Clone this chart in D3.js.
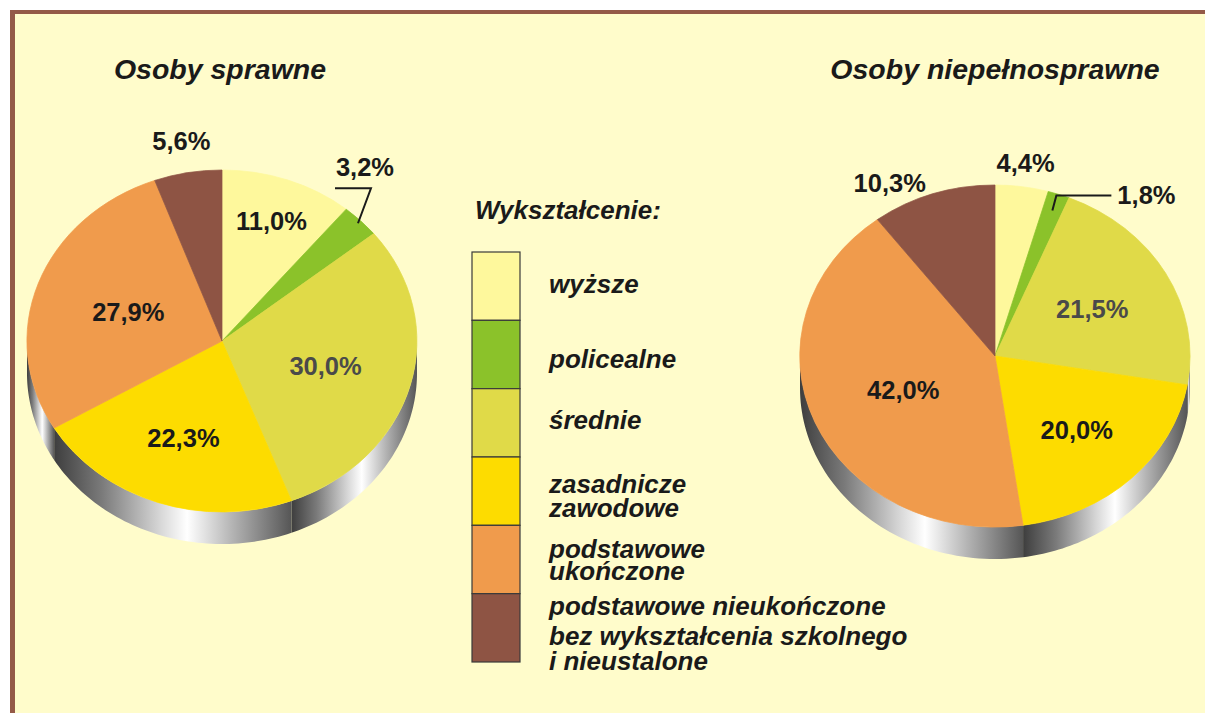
<!DOCTYPE html>
<html>
<head>
<meta charset="utf-8">
<script src="https://cdn.jsdelivr.net/npm/d3@7"></script>
<style>
  html, body { margin: 0; padding: 0; background: #ffffff; }
  text { font-family: "Liberation Sans", Arial, sans-serif; fill: #1a1a1a; }
</style>
</head>
<body>
<div id="chart"></div>
<script>
////////////////////////////////////////////////////////////////////////
// Data

// education levels (legend order = slice order, clockwise from 12 o'clock)
const categories = [
    "wyższe",
    "policealne",
    "średnie",
    "zasadnicze\nzawodowe",
    "podstawowe\nukończone",
    "podstawowe nieukończone\nbez wykształcenia szkolnego\ni nieustalone"
];

// percentages
const sprawneValues = [11.0, 3.2, 30.0, 22.3, 27.9, 5.6];
const niepelnosprawneValues = [4.4, 1.8, 21.5, 20.0, 42.0, 10.3];

const pieTitles = ["Osoby sprawne", "Osoby niepełnosprawne"];
const legendTitle = "Wykształcenie:";

////////////////////////////////////////////////////////////////////////
// Layout / style

const width = 1205;
const height = 713;
const colors = ["#fef89c", "#8bc22a", "#e0da48", "#fddc00", "#f09b4c", "#8e5444"];

// label placement: radius factor and optional angle (deg) override
const leftLabelR = [0.75, 0.98, 0.55, 0.6, 0.51, 1.19];
const rightLabelR = [1.14, 0.9, 0.57, 0.6, 0.51, 1.15];
const rightLabelAngle = [null, null, null, null, null, 332];

// baselines of legend lines, measured from each box top
const legendLineY = [[41], [48], [40], [36, 60], [33, 55], [21, 51, 76]];

let svg = null;
const fmt = v => v.toFixed(1).replace(".", ",") + "%";

function initializeSVG() {
    svg = d3.select("#chart")
        .append("svg")
        .attr("width", width)
        .attr("height", height);

    // background with brown frame on top and left
    svg.append("rect")
        .attr("x", 10).attr("y", 10)
        .attr("width", width - 10).attr("height", height - 10)
        .attr("fill", "#945a48");
    svg.append("rect")
        .attr("x", 15).attr("y", 14)
        .attr("width", width - 15).attr("height", height - 14)
        .attr("fill", "#fffccb");

    // metallic gradient for the pie sides
    let grad = svg.append("defs")
        .append("linearGradient")
        .attr("id", "metal")
        .attr("x1", 0).attr("x2", 1).attr("y1", 0).attr("y2", 0);
    [[0, "#3e3e3e"], [0.2, "#7a7a7a"], [0.45, "#d8d8d8"], [0.56, "#ffffff"],
     [0.75, "#b4b4b4"], [1, "#565656"]].forEach(s => {
        grad.append("stop").attr("offset", s[0]).attr("stop-color", s[1]);
    });
}

// point on the tilted pie (angle clockwise from top)
function ellPoint(p, a, r) {
    return [p.cx + p.rx * r * Math.sin(a), p.cy - p.ry * r * Math.cos(a)];
}

function drawPie(values, p, labelR, labelAngle, leader) {
    const pie = d3.pie().sort(null).value(d => d);
    const arcs = pie(values);
    const g = svg.append("g");

    // visible side of each slice (front half only)
    arcs.forEach((d, i) => {
        let a0 = Math.max(d.startAngle, Math.PI / 2);
        let a1 = Math.min(d.endAngle, 3 * Math.PI / 2);
        if (a1 <= a0) return;
        let ts = d3.range(0, 61).map(k => a0 + (a1 - a0) * k / 60);
        let top = ts.map(t => ellPoint(p, t, 1));
        let bottom = ts.slice().reverse().map(t => {
            let q = ellPoint(p, t, 1);
            return [q[0], q[1] + p.depth];
        });
        g.append("path")
            .attr("d", d3.line()(top.concat(bottom)) + "Z")
            .attr("fill", "url(#metal)");
    });

    // top surface
    const arc = d3.arc().innerRadius(0).outerRadius(1);
    g.append("g")
        .attr("transform", `translate(${p.cx},${p.cy}) scale(${p.rx},${p.ry})`)
        .selectAll("path")
        .data(arcs)
        .enter()
        .append("path")
        .attr("d", arc)
        .attr("fill", (d, i) => colors[i])
        .attr("stroke", (d, i) => colors[i])
        .attr("stroke-width", 0.004);

    // labels
    arcs.forEach((d, i) => {
        let mid = (d.startAngle + d.endAngle) / 2;
        if (i === leader.index) {
            let s = ellPoint(p, mid, labelR[i]);
            let e = [s[0] + leader.dx, s[1] + leader.dy];
            let h = [e[0] + leader.len, e[1]];
            g.append("path")
                .attr("d", d3.line()([s, e, h]))
                .attr("fill", "none")
                .attr("stroke", "#1a1a1a")
                .attr("stroke-width", 2);
            g.append("text")
                .attr("x", e[0] + leader.tx)
                .attr("y", e[1] + leader.ty)
                .attr("text-anchor", leader.anchor)
                .style("font-size", "25.5px")
                .style("font-weight", "bold")
                .text(fmt(values[i]));
            return;
        }
        let a = labelAngle && labelAngle[i] != null ? labelAngle[i] * Math.PI / 180 : mid;
        let q = ellPoint(p, a, labelR[i]);
        g.append("text")
            .attr("x", q[0])
            .attr("y", q[1])
            .attr("dy", "0.36em")
            .attr("text-anchor", "middle")
            .style("font-size", "25.5px")
            .style("font-weight", "bold")
            .style("fill", i === 2 ? "#4a4a4a" : "#1a1a1a")
            .text(fmt(values[i]));
    });
}

function drawTitles() {
    svg.selectAll(".title")
        .data(pieTitles)
        .enter()
        .append("text")
        .attr("class", "title")
        .attr("x", (d, i) => i === 0 ? 220 : 995)
        .attr("y", 79)
        .attr("text-anchor", "middle")
        .style("font-size", "28.5px")
        .style("font-weight", "bold")
        .style("font-style", "italic")
        .text(d => d);
}

function drawLegend() {
    const x0 = 472, y0 = 252, boxW = 48;
    const yScale = d3.scaleBand()
        .domain(d3.range(categories.length))
        .range([y0, 662]);

    svg.append("text")
        .attr("x", 475)
        .attr("y", 219)
        .style("font-size", "26px")
        .style("font-weight", "bold")
        .style("font-style", "italic")
        .text(legendTitle);

    svg.selectAll(".lbox")
        .data(categories)
        .enter()
        .append("rect")
        .attr("class", "lbox")
        .attr("x", x0)
        .attr("y", (d, i) => yScale(i))
        .attr("width", boxW)
        .attr("height", yScale.bandwidth())
        .attr("fill", (d, i) => colors[i])
        .attr("stroke", "#3a3a3a")
        .attr("stroke-width", 1.2);

    categories.forEach((c, i) => {
        c.split("\n").forEach((line, k) => {
            svg.append("text")
                .attr("x", 549)
                .attr("y", yScale(i) + legendLineY[i][k])
                .style("font-size", "26px")
                .style("font-weight", "bold")
                .style("font-style", "italic")
                .text(line);
        });
    });
}

initializeSVG();
drawTitles();
drawPie(sprawneValues,
    { cx: 222, cy: 341, rx: 195, ry: 171, depth: 32 },
    leftLabelR, null,
    { index: 1, dx: 13, dy: -35, len: -36, tx: -6, ty: -12, anchor: "middle" });
drawPie(niepelnosprawneValues,
    { cx: 995, cy: 356, rx: 195, ry: 171, depth: 32 },
    rightLabelR, rightLabelAngle,
    { index: 1, dx: 4, dy: -15, len: 55, tx: 61, ty: 8, anchor: "start" });
drawLegend();
</script>
</body>
</html>
